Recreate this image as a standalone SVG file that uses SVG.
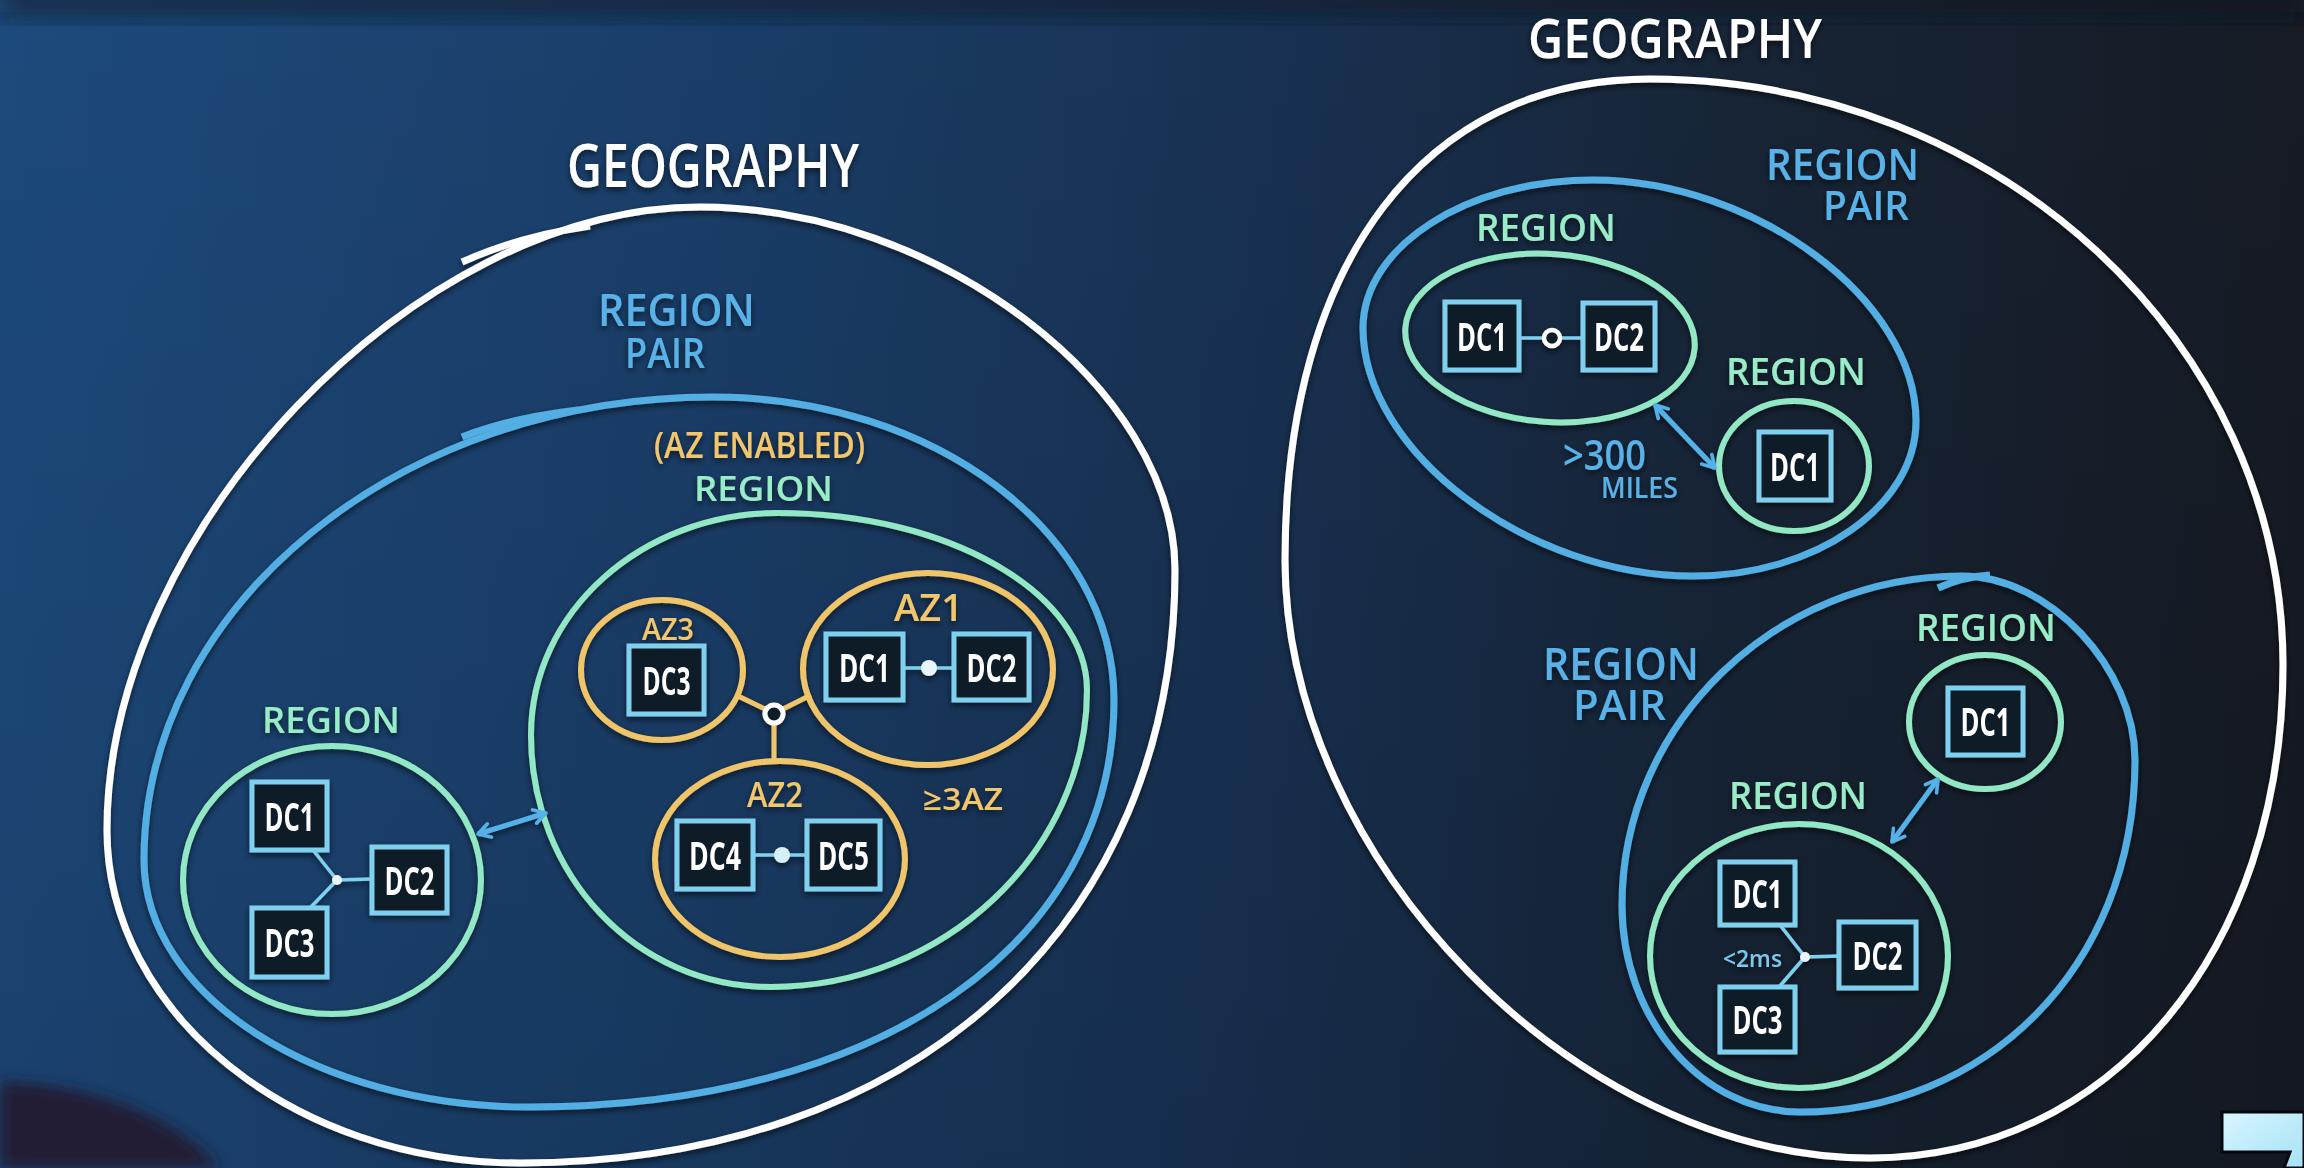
<svg xmlns="http://www.w3.org/2000/svg" width="2304" height="1168" viewBox="0 0 2304 1168">
<defs>
  <linearGradient id="bg" x1="0" y1="0" x2="1" y2="0">
    <stop offset="0" stop-color="#1d4a7c"/>
    <stop offset="0.3" stop-color="#1a3e69"/>
    <stop offset="0.55" stop-color="#183152"/>
    <stop offset="0.75" stop-color="#172537"/>
    <stop offset="1" stop-color="#161b24"/>
  </linearGradient>
  <linearGradient id="bgv" x1="0" y1="0" x2="0" y2="1">
    <stop offset="0" stop-color="#000" stop-opacity="0"/>
    <stop offset="1" stop-color="#000" stop-opacity="0.12"/>
  </linearGradient>
  <linearGradient id="logo" x1="0" y1="0" x2="1" y2="1">
    <stop offset="0" stop-color="#d8f5ff"/>
    <stop offset="1" stop-color="#a6e2f6"/>
  </linearGradient>
  <filter id="sh" x="-5%" y="-5%" width="110%" height="110%">
    <feDropShadow dx="0" dy="3" stdDeviation="3" flood-color="#000" flood-opacity="0.6"/>
  </filter>
  <filter id="blur" x="-50%" y="-50%" width="200%" height="200%">
    <feGaussianBlur stdDeviation="14"/>
  </filter>
  <filter id="blur2" x="-50%" y="-50%" width="200%" height="200%">
    <feGaussianBlur stdDeviation="7"/>
  </filter>
  <marker id="arw" viewBox="0 0 20 20" refX="17" refY="10" markerWidth="20" markerHeight="20" markerUnits="userSpaceOnUse" orient="auto-start-reverse">
    <path d="M5,3 L17,10 L5,17" fill="none" stroke="#55b2e8" stroke-width="3.5" stroke-linecap="round" stroke-linejoin="round"/>
  </marker>
  <style>
    text { font-family: "Open Sans", "Liberation Sans", "DejaVu Sans", sans-serif; font-weight: 600; }
    .geo { fill: none; stroke: #ffffff; stroke-width: 7; }
    .pair { fill: none; stroke: #52aee4; stroke-width: 7; }
    .reg { fill: none; stroke: #92e8c4; stroke-width: 6; }
    .az { fill: none; stroke: #f0c56a; stroke-width: 6; }
    .dc rect { fill: #0e1a28; stroke: #7fd0ee; stroke-width: 5; }
    .dc text { fill: #ffffff; font-size: 40px; text-anchor: middle; font-weight: 700; }
    .tw { fill: #ffffff; }
    .tb { fill: #58b2e8; }
    .tg { fill: #98ecc8; }
    .ty { fill: #f2c66c; }
    .link { stroke: #7fd0ee; stroke-width: 3.5; fill: none; }
    .azlink { stroke: #f0c56a; stroke-width: 5; fill: none; }
    .arrow { stroke: #55b2e8; stroke-width: 5; fill: none; marker-start: url(#arw); marker-end: url(#arw); }
  </style>
</defs>

<rect width="2304" height="1168" fill="url(#bg)"/>
<rect width="2304" height="1168" fill="url(#bgv)"/>
<rect x="0" y="-10" width="2304" height="24" fill="#0d1624" opacity="0.7" filter="url(#blur)"/>
<path d="M0,1082 C70,1084 160,1102 220,1168 L0,1168 Z" fill="#211a34" filter="url(#blur2)"/>

<g filter="url(#sh)">
  <!-- LEFT GEOGRAPHY -->
  <g id="geo-left">
    <path class="geo" d="M700,207 C937,207 1175,388 1175,570 C1175,926 913,1163 520,1163 C293,1163 107,1013 107,830 C107,531 415,207 700,207 Z"/>
    <path class="geo" stroke-width="5" d="M462,262 Q520,236 590,226"/>
    <text class="tw" x="567" y="187" font-size="60" textLength="292" lengthAdjust="spacingAndGlyphs">GEOGRAPHY</text>
  </g>
  <g id="pair-left">
    <path class="pair" d="M713,397 C934,397 1114,533 1114,700 C1114,944 880,1107 530,1107 C318,1107 144,996 144,860 C144,605 400,397 713,397 Z"/>
    <path class="pair" stroke-width="5" d="M462,437 Q510,418 578,410"/>
    <text class="tb" x="598" y="326" font-size="46" textLength="157" lengthAdjust="spacingAndGlyphs">REGION</text>
    <text class="tb" x="625" y="368" font-size="42" textLength="80" lengthAdjust="spacingAndGlyphs">PAIR</text>
  </g>
  <g id="region-left">
    <ellipse class="reg" cx="332" cy="880" rx="149" ry="134"/>
    <text class="tg" x="262" y="733" font-size="36" textLength="138" lengthAdjust="spacingAndGlyphs">REGION</text>
  </g>
  <g id="region-az">
    <path class="reg" d="M778,513 C948,513 1087,593 1087,690 C1087,850 945,987 771,987 C635,987 531,874 531,735 C531,612 642,513 778,513 Z"/>
    <text class="ty" x="654" y="458" font-size="36" textLength="211" lengthAdjust="spacingAndGlyphs">(AZ ENABLED)</text>
    <text class="tg" x="694" y="501" font-size="35" textLength="139" lengthAdjust="spacingAndGlyphs">REGION</text>
    <text class="ty" x="923" y="810" font-size="31" textLength="80" lengthAdjust="spacingAndGlyphs">≥3AZ</text>
  </g>
  <g id="az3">
    <ellipse class="az" cx="662" cy="670" rx="81" ry="70"/>
    <text class="ty" x="642" y="640" font-size="30" textLength="52" lengthAdjust="spacingAndGlyphs">AZ3</text>
  </g>
  <g id="az1">
    <ellipse class="az" cx="928" cy="669" rx="125" ry="96"/>
    <text class="ty" x="894" y="621" font-size="38" textLength="69" lengthAdjust="spacingAndGlyphs">AZ1</text>
  </g>
  <g id="az2">
    <ellipse class="az" cx="780" cy="859" rx="125" ry="98"/>
    <text class="ty" x="747" y="807" font-size="34" textLength="56" lengthAdjust="spacingAndGlyphs">AZ2</text>
  </g>

  <!-- RIGHT GEOGRAPHY -->
  <g id="geo-right">
    <path class="geo" d="M1650,79 C1998,79 2283,343 2283,665 C2283,951 2110,1158 1870,1158 C1577,1158 1285,859 1285,560 C1285,262 1424,79 1650,79 Z"/>
    <text class="tw" x="1528" y="58" font-size="55" textLength="294" lengthAdjust="spacingAndGlyphs">GEOGRAPHY</text>
  </g>
  <g id="pair-top">
    <path class="pair" d="M1593,180 C1755,180 1916,300 1916,421 C1916,506 1816,576 1693,576 C1528,576 1363,452 1363,328 C1363,247 1466,180 1593,180 Z"/>
    <text class="tb" x="1766" y="180" font-size="44" textLength="153" lengthAdjust="spacingAndGlyphs">REGION</text>
    <text class="tb" x="1823" y="220" font-size="40" textLength="86" lengthAdjust="spacingAndGlyphs">PAIR</text>
    <text class="tb" x="1563" y="470" font-size="42" textLength="83" lengthAdjust="spacingAndGlyphs">&gt;300</text>
    <text class="tb" x="1601" y="498" font-size="28" textLength="77" lengthAdjust="spacingAndGlyphs">MILES</text>
  </g>
  <g id="region-top-a">
    <ellipse class="reg" cx="1550" cy="338" rx="145" ry="84" transform="rotate(4 1550 338)"/>
    <text class="tg" x="1476" y="241" font-size="38" textLength="140" lengthAdjust="spacingAndGlyphs">REGION</text>
  </g>
  <g id="region-top-b">
    <ellipse class="reg" cx="1794" cy="466" rx="75" ry="65"/>
    <text class="tg" x="1726" y="385" font-size="38" textLength="140" lengthAdjust="spacingAndGlyphs">REGION</text>
  </g>
  <g id="pair-bottom">
    <path class="pair" d="M1962,576 C2049,576 2135,668 2135,760 C2135,971 1981,1112 1800,1112 C1702,1112 1622,1019 1622,905 C1622,724 1775,576 1962,576 Z"/>
    <path class="pair" stroke-width="5" d="M1938,588 Q1962,577 1990,575"/>
    <text class="tb" x="1543" y="680" font-size="46" textLength="156" lengthAdjust="spacingAndGlyphs">REGION</text>
    <text class="tb" x="1573" y="720" font-size="42" textLength="93" lengthAdjust="spacingAndGlyphs">PAIR</text>
  </g>
  <g id="region-bottom-a">
    <ellipse class="reg" cx="1985" cy="722" rx="76" ry="67"/>
    <text class="tg" x="1916" y="641" font-size="38" textLength="140" lengthAdjust="spacingAndGlyphs">REGION</text>
  </g>
  <g id="region-bottom-b">
    <ellipse class="reg" cx="1799" cy="956" rx="149" ry="132"/>
    <text class="tg" x="1729" y="809" font-size="38" textLength="138" lengthAdjust="spacingAndGlyphs">REGION</text>
    <text x="1723" y="967" font-size="24" fill="#7cc8ea" textLength="59" lengthAdjust="spacingAndGlyphs">&lt;2ms</text>
  </g>

  <!-- CONNECTORS -->
  <g id="connectors">
    <line class="link" x1="313" y1="850" x2="337" y2="880"/>
    <line class="link" x1="337" y1="880" x2="372" y2="879"/>
    <line class="link" x1="310" y1="908" x2="337" y2="880"/>
    <circle cx="337" cy="880" r="5" fill="#e8f6fb"/>

    <line class="link" x1="903" y1="668" x2="954" y2="668"/>
    <circle cx="929" cy="668" r="8" fill="#e6f6fb"/>
    <line class="link" x1="753" y1="855" x2="807" y2="855"/>
    <circle cx="782" cy="855" r="8" fill="#d6f0f8"/>

    <line class="azlink" x1="738" y1="696" x2="765" y2="709"/>
    <line class="azlink" x1="811" y1="695" x2="783" y2="709"/>
    <line class="azlink" x1="774" y1="724" x2="774" y2="762"/>
    <circle cx="774" cy="714" r="9" fill="#0e1a28" stroke="#ffffff" stroke-width="5"/>

    <line class="link" x1="1519" y1="338" x2="1583" y2="338"/>
    <circle cx="1552" cy="338" r="8" fill="#0e1a28" stroke="#ffffff" stroke-width="4.5"/>

    <line class="link" x1="1780" y1="925" x2="1805" y2="957"/>
    <line class="link" x1="1805" y1="957" x2="1839" y2="956"/>
    <line class="link" x1="1779" y1="987" x2="1805" y2="957"/>
    <circle cx="1805" cy="957" r="5" fill="#e8f6fb"/>

    <line class="arrow" x1="478" y1="834" x2="546" y2="813"/>
    <line class="arrow" x1="1655" y1="405" x2="1715" y2="468"/>
    <line class="arrow" x1="1892" y1="842" x2="1938" y2="779"/>
  </g>

  <!-- DC NODES -->
  <g id="l-dc1" class="dc"><rect x="252" y="782" width="75" height="68"/><text x="289.5" y="831" textLength="50" lengthAdjust="spacingAndGlyphs">DC1</text></g>
  <g id="l-dc2" class="dc"><rect x="372" y="847" width="75" height="66"/><text x="409.5" y="895" textLength="50" lengthAdjust="spacingAndGlyphs">DC2</text></g>
  <g id="l-dc3" class="dc"><rect x="252" y="908" width="75" height="69"/><text x="289.5" y="957" textLength="50" lengthAdjust="spacingAndGlyphs">DC3</text></g>
  <g id="az3-dc3" class="dc"><rect x="629" y="646" width="75" height="68"/><text x="666.5" y="695" textLength="48" lengthAdjust="spacingAndGlyphs">DC3</text></g>
  <g id="az1-dc1" class="dc"><rect x="826" y="634" width="77" height="66"/><text x="864.5" y="682" textLength="51" lengthAdjust="spacingAndGlyphs">DC1</text></g>
  <g id="az1-dc2" class="dc"><rect x="954" y="634" width="75" height="66"/><text x="991.5" y="682" textLength="50" lengthAdjust="spacingAndGlyphs">DC2</text></g>
  <g id="az2-dc4" class="dc"><rect x="677" y="821" width="76" height="68"/><text x="715" y="870" textLength="52" lengthAdjust="spacingAndGlyphs">DC4</text></g>
  <g id="az2-dc5" class="dc"><rect x="807" y="821" width="73" height="68"/><text x="843.5" y="870" textLength="51" lengthAdjust="spacingAndGlyphs">DC5</text></g>
  <g id="rt-dc1" class="dc"><rect x="1445" y="302" width="74" height="68"/><text x="1482" y="351" textLength="50" lengthAdjust="spacingAndGlyphs">DC1</text></g>
  <g id="rt-dc2" class="dc"><rect x="1583" y="303" width="72" height="67"/><text x="1619" y="351" textLength="50" lengthAdjust="spacingAndGlyphs">DC2</text></g>
  <g id="rt2-dc1" class="dc"><rect x="1759" y="432" width="72" height="68"/><text x="1795" y="481" textLength="50" lengthAdjust="spacingAndGlyphs">DC1</text></g>
  <g id="rb1-dc1" class="dc"><rect x="1948" y="688" width="75" height="67"/><text x="1985.5" y="736" textLength="50" lengthAdjust="spacingAndGlyphs">DC1</text></g>
  <g id="rb2-dc1" class="dc"><rect x="1720" y="862" width="75" height="63"/><text x="1757.5" y="908" textLength="50" lengthAdjust="spacingAndGlyphs">DC1</text></g>
  <g id="rb2-dc2" class="dc"><rect x="1839" y="922" width="77" height="66"/><text x="1877.5" y="970" textLength="50" lengthAdjust="spacingAndGlyphs">DC2</text></g>
  <g id="rb2-dc3" class="dc"><rect x="1720" y="987" width="75" height="65"/><text x="1757.5" y="1034" textLength="50" lengthAdjust="spacingAndGlyphs">DC3</text></g>
</g>

<polygon points="2222,1112 2304,1112 2304,1168 2284,1168 2290,1152 2222,1152" fill="url(#logo)" stroke="#05080c" stroke-width="3"/>
</svg>
